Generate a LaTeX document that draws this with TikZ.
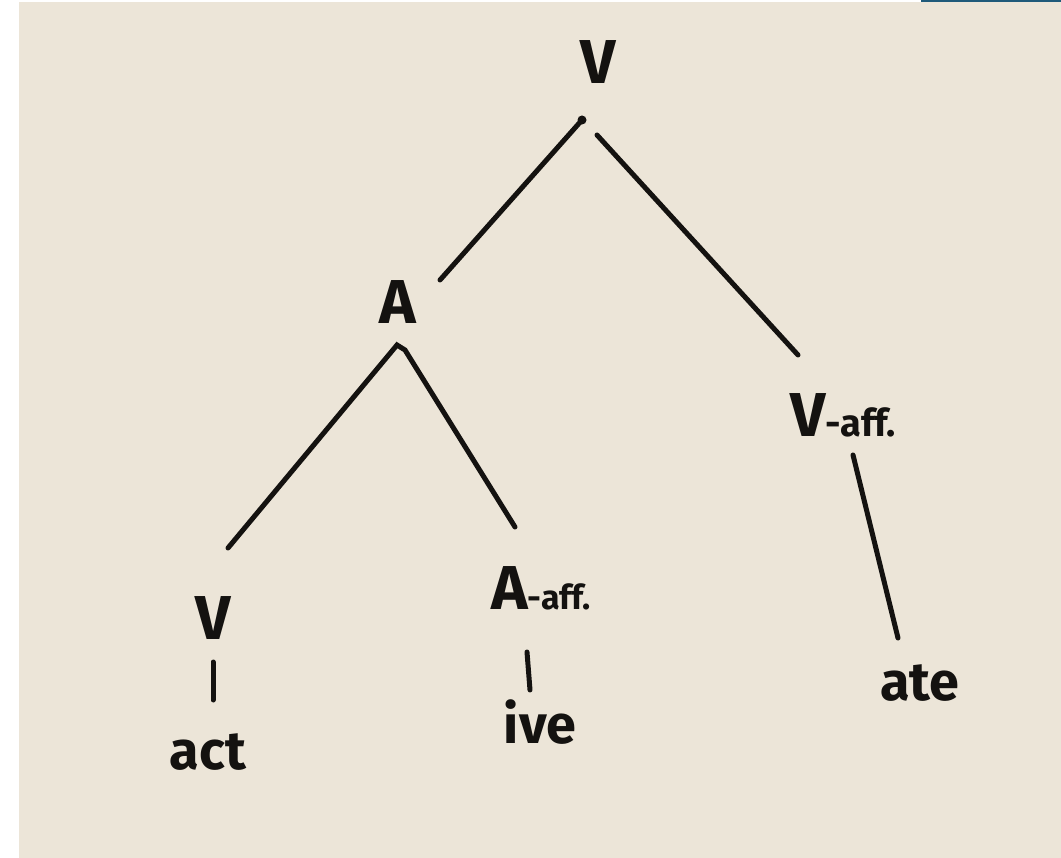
\documentclass[tikz,border=0pt]{standalone}
\usepackage{fontspec}
\setmainfont{Fira Sans}
\definecolor{paper}{HTML}{ECE5D8}
\definecolor{ink}{HTML}{141210}
\definecolor{barblue}{HTML}{1F5A7A}
\begin{document}
\begin{tikzpicture}[x=1pt,y=-1pt,
  lbl/.style={inner sep=0pt,text=ink,font=\bfseries\fontsize{62}{64}\selectfont},
  word/.style={inner sep=0pt,text=ink,font=\bfseries\fontsize{54}{56}\selectfont},
  edge/.style={draw=ink,line width=5pt,line cap=round}]
\useasboundingbox (0,0) rectangle (1061,858);
\fill[white] (0,0) rectangle (1061,858);
\fill[paper] (19,2) rectangle (1061,858);
\fill[barblue] (921,0) rectangle (1061,2.5);
% labels
\node[lbl] (V) at (598,62) {V};
\node[lbl] (A) at (398,302) {A};
\node[lbl,anchor=west] (Vaff) at (790,415) {V\fontsize{38}{40}\selectfont-aff.};
\node[lbl] (V2) at (213,618) {V};
\node[lbl,anchor=west] (Aaff) at (491,588) {A\fontsize{34}{36}\selectfont-aff.};
\node[word] (act) at (208,752) {act};
\node[word] (ive) at (540,722) {ive};
\node[word] (ate) at (920,683) {ate};
% connection points
\coordinate (vr) at (582,120);
\coordinate (vl1) at (440,280);
\coordinate (vrr) at (597,135);
\coordinate (vr2) at (798,355);
\coordinate (ap) at (397,345);
\coordinate (al) at (228,548);
\coordinate (ar1) at (405,350);
\coordinate (ar) at (515,527);
\coordinate (vf1) at (853,455);
\coordinate (vf2) at (898,638);
\coordinate (t1) at (213,662);
\coordinate (t2) at (213,700);
\coordinate (u1) at (527,652);
\coordinate (u2) at (530,690);
\fill[ink] (vr) circle (4.5pt);
\draw[edge] (vr) -- (vl1);
\draw[edge] (vrr) -- (vr2);
\draw[edge] (al) -- (ap) -- (ar1) -- (ar);
\draw[edge] (vf1) -- (vf2);
\draw[edge] (t1) -- (t2);
\draw[edge] (u1) -- (u2);
\end{tikzpicture}
\end{document}
